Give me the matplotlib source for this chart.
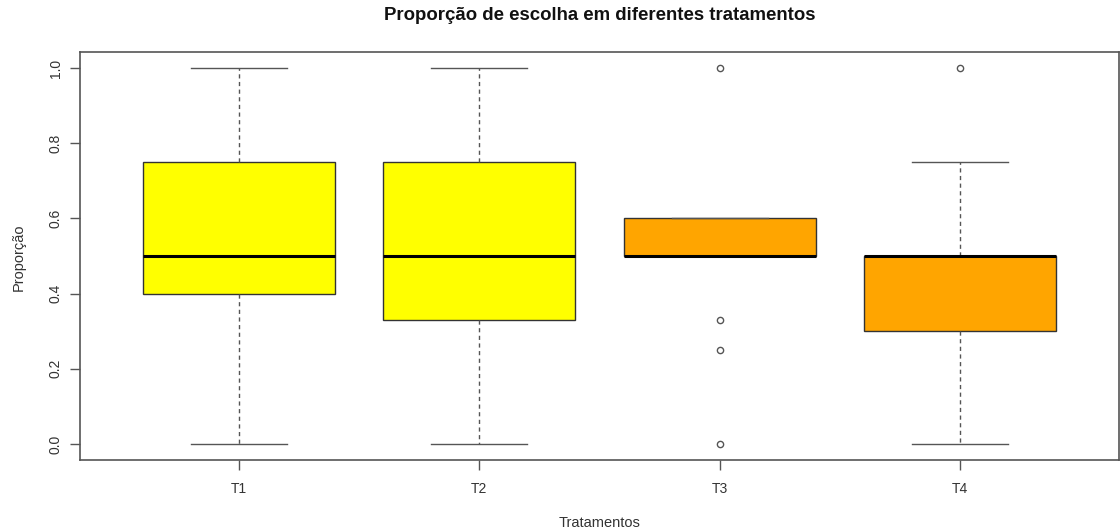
import numpy as np
import matplotlib
matplotlib.use('Agg')
import matplotlib.pyplot as plt

plt.rcParams['font.family'] = ['Liberation Sans', 'DejaVu Sans']

# treatments and box statistics
labels = ['T1', 'T2', 'T3', 'T4']
whislo = [0.0, 0.0, 0.5, 0.0]
q1 = [0.40, 0.33, 0.50, 0.30]
med = [0.50, 0.50, 0.50, 0.50]
q3 = [0.75, 0.75, 0.60, 0.50]
whishi = [1.0, 1.0, 0.6, 0.75]
fliers = [[], [], [1.0, 0.33, 0.25, 0.0], [1.0]]
colors = ['yellow', 'yellow', 'orange', 'orange']

stats = []
for i in range(len(labels)):
    stats.append(dict(label=labels[i], whislo=whislo[i], q1=q1[i], med=med[i],
                      q3=q3[i], whishi=whishi[i], fliers=fliers[i]))

fig = plt.figure(figsize=(11.2, 5.32), dpi=100)
ax = fig.add_axes([80/1120, 1-460/532, (1119-80)/1120, (460-52)/532])

pos = np.arange(1, len(labels)+1)
bp = ax.bxp(stats, positions=pos, widths=0.8, patch_artist=True,
            showcaps=True, manage_ticks=False,
            boxprops=dict(edgecolor='#333333', linewidth=1.0),
            medianprops=dict(color='black', linewidth=2.2, solid_capstyle='butt'),
            whiskerprops=dict(color='#555555', linestyle=(0, (3, 2.5)), linewidth=1.0),
            capprops=dict(color='#555555', linewidth=1.0),
            flierprops=dict(marker='o', markersize=4.5, markerfacecolor='none',
                            markeredgecolor='#555555', markeredgewidth=1.0))
for patch, c in zip(bp['boxes'], colors):
    patch.set_facecolor(c)
for cap in bp['caps']:
    x = cap.get_xdata()
    m = x.mean()
    cap.set_xdata([m-0.2, m+0.2])

ax.set_xlim(0.34, 4.66)
ax.set_ylim(-0.0426, 1.0426)
ax.set_xticks(pos)
ax.set_xticklabels(labels)
ax.set_yticks([0.0, 0.2, 0.4, 0.6, 0.8, 1.0])
ax.set_yticklabels(['0.0', '0.2', '0.4', '0.6', '0.8', '1.0'], rotation=90, va='center')
ax.tick_params(axis='both', length=7, width=1, color='#555555', labelsize=10,
               labelcolor='#333333')
ax.tick_params(axis='x', pad=9)
ax.tick_params(axis='y', pad=5.5)
for s in ax.spines.values():
    s.set_color('#555555')
    s.set_linewidth(1.2)

fig.text(600/1120, 1-16/532, 'Proporção de escolha em diferentes tratamentos',
         ha='center', va='center', fontsize=13.4, fontweight='bold', color='#111111')
fig.text(600/1120, 1-523/532, 'Tratamentos', ha='center', va='center',
         fontsize=10.5, color='#333333')
fig.text(19/1120, 1-257/532, 'Proporção', ha='center', va='center',
         rotation=90, fontsize=10.5, color='#333333')

fig.savefig('out.png', dpi=100)
